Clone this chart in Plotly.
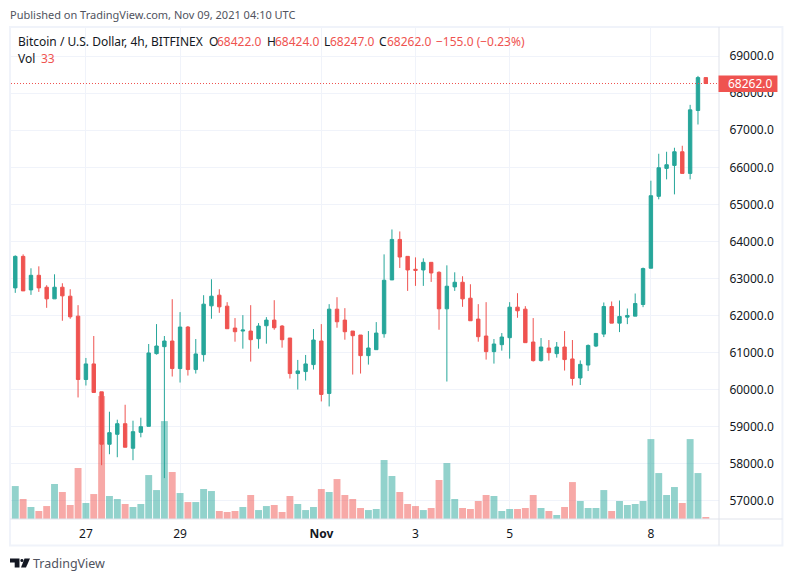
import pandas as pd
import plotly.graph_objects as go

GREEN = "#26a69a"
RED = "#ef5350"
GREEN_VOL = "rgba(38,166,154,0.5)"
RED_VOL = "rgba(239,83,80,0.5)"
GRID = "#f0f3fa"
TEXT = "#131722"

opens = [
    62746, 63597, 62692, 63086, 62764, 62450, 62764, 62522, 61984, 60273,
    60694, 59941, 58526, 58795, 59081, 58418, 58848, 59010, 60972, 61160,
    61312, 60569, 61689, 60542, 60945, 62262, 62549, 62253, 61662, 61581,
    61581, 61375, 61724, 61877, 61716, 61393, 60434, 60488, 60676, 61312,
    59897, 62172, 61877, 61581, 61474, 60918, 61079, 61509, 62961, 64054,
    63597, 63248, 63230, 63436, 63167, 62181, 62773, 62898, 62468, 61904,
    61447, 61026, 61214, 61402, 62226, 62172, 61285, 60784, 61124, 60972,
    61151, 60828, 60314, 60664, 61176, 61499, 62244, 61795, 61957, 61984,
    62298, 63277, 65217, 65971, 66052, 66420, 65836, 67533, 68422,
]
highs = [
    63624, 63651, 63275, 63328, 62818, 63113, 62871, 62710, 62280, 60855,
    61447, 59941, 59404, 59189, 59592, 59162, 59243, 61232, 61769, 61447,
    62441, 62092, 61716, 61366, 62549, 62979, 62710, 62361, 61931, 62011,
    62280, 61796, 61957, 62414, 61742, 61393, 60802, 60936, 61635, 61769,
    62307, 62495, 62199, 61581, 61474, 61581, 61823, 63651, 64323, 64269,
    63597, 63570, 63543, 63436, 63194, 63355, 63167, 63060, 62844, 62307,
    62361, 61366, 61527, 62361, 62603, 62253, 61931, 61393, 61339, 61285,
    61581, 61339, 60789, 61220, 61517, 62352, 62379, 62406, 62190, 62595,
    63295, 65639, 66366, 66420, 66528, 66582, 67686, 68467, 68424,
]
lows = [
    62612, 62665, 62558, 62638, 62208, 62450, 61859, 61913, 59789, 60112,
    59924, 57961, 58257, 58176, 58445, 58096, 58714, 59010, 60945, 57612,
    60354, 60192, 60380, 60434, 60757, 61913, 62074, 61644, 61294, 61106,
    60757, 61106, 61241, 61617, 61133, 60300, 60004, 60246, 60542, 59682,
    59547, 61671, 61348, 60407, 60434, 60676, 61079, 61402, 62961, 63284,
    62665, 62800, 62800, 62907, 61617, 60219, 62665, 62235, 61859, 61294,
    60811, 60703, 61052, 60837, 61940, 61268, 60757, 60757, 60784, 60864,
    60515, 60112, 60125, 60502, 61149, 61418, 61795, 61553, 61768, 61984,
    62226, 63277, 65136, 65675, 65270, 65836, 65675, 67156, 68247,
]
closes = [
    63597, 62665, 63086, 62746, 62450, 62764, 62531, 61966, 60273, 60694,
    59924, 58526, 58839, 59081, 58445, 58866, 59001, 60990, 61178, 61312,
    60569, 61689, 60542, 60963, 62307, 62522, 62235, 61644, 61563, 61608,
    61348, 61716, 61877, 61671, 61348, 60434, 60506, 60694, 61339, 59870,
    62172, 61832, 61563, 61456, 60918, 61124, 61527, 62952, 64054, 63579,
    63230, 63221, 63436, 63149, 62181, 62791, 62898, 62450, 61859, 61429,
    61026, 61232, 61420, 62226, 62128, 61268, 60784, 61151, 60999, 61151,
    60811, 60300, 60682, 61193, 61517, 62244, 61795, 61975, 62002, 62325,
    63268, 65234, 65989, 66070, 66420, 65836, 67551, 68422, 68262,
]
volumes = [
    544, 330, 198, 132, 214, 578, 446, 231, 842, 264,
    412, 2030, 380, 330, 248, 198, 248, 726, 478, 1617,
    776, 429, 280, 280, 495, 462, 132, 116, 132, 198,
    396, 148, 214, 231, 116, 380, 248, 148, 198, 495,
    446, 660, 396, 330, 182, 148, 165, 974, 710, 446,
    248, 214, 148, 182, 644, 924, 330, 182, 165, 297,
    396, 380, 132, 165, 165, 182, 396, 182, 132, 66,
    198, 610, 297, 182, 182, 478, 132, 297, 231, 248,
    297, 1320, 759, 396, 528, 264, 1320, 759, 33,
]
# the bar cut off by the left edge of the pane
edge_volume = 231

price_ticks = [57000, 58000, 59000, 60000, 61000, 62000, 63000, 64000, 65000, 66000, 67000, 68000, 69000]
date_ticks = ["2021-10-27", "2021-10-29", "2021-11-01", "2021-11-03", "2021-11-05", "2021-11-08"]
date_labels = ["27", "29", "<b>Nov</b>", "3", "5", "8"]
last_price = 68262

times = pd.date_range("2021-10-25 12:00", periods=len(opens), freq="4h")
edge_time = pd.Timestamp("2021-10-25 08:00")

vol_x = [edge_time] + list(times)
vol_y = [edge_volume] + volumes
vol_colors = [GREEN_VOL] + [GREEN_VOL if c >= o else RED_VOL for o, c in zip(opens, closes)]

L, R, T, B = 11, 719.5, 27, 519.5


def xp(px):
    return (px - L) / (R - L)


def yp(py):
    return (B - py) / (B - T)


def logo_path(points):
    return "M " + " L ".join(f"{xp(x)},{yp(y)}" for x, y in points) + " Z"


fig = go.Figure()

fig.add_trace(go.Bar(x=vol_x, y=vol_y, marker=dict(color=vol_colors, line_width=0), yaxis="y"))
fig.add_trace(go.Candlestick(
    x=times, open=opens, high=highs, low=lows, close=closes,
    increasing=dict(line=dict(color=GREEN, width=1), fillcolor=GREEN),
    decreasing=dict(line=dict(color=RED, width=1), fillcolor=RED),
    whiskerwidth=0,
    yaxis="y2",
))


def label(px, py, text, color=TEXT, size=12, anchor="left", font="Noto Sans"):
    fig.add_annotation(
        xref="paper", yref="paper", x=xp(px), y=yp(py), text=text, showarrow=False,
        xanchor=anchor, yanchor="middle", borderpad=0, borderwidth=0,
        font=dict(family=font, size=size, color=color),
    )


label(10, 14, "Published on TradingView.com, Nov 09, 2021 04:10 UTC", color="#50535e", size=11)
label(18, 42, "Bitcoin / U.S. Dollar, 4h, BITFINEX")
label(209, 42, "O")
label(217, 42, "68422.0", color=RED)
label(267, 42, "H")
label(275, 42, "68424.0", color=RED)
label(324, 42, "L")
label(330, 42, "68247.0", color=RED)
label(379, 42, "C")
label(387, 42, "68262.0", color=RED)
label(436, 42, "\u2212155.0 (\u22120.23%)", color=RED)
label(18, 59, "Vol")
label(41, 59, "33", color=RED)
label(751, 84, f"{last_price:.1f}", color="#ffffff", anchor="center")
label(33, 564, "TradingView", color="#50535e", size=12.5)

shapes = [
    # chart frame and axis separators
    dict(type="rect", xref="paper", yref="paper", x0=xp(10), x1=xp(783), y0=yp(546), y1=yp(27),
         line=dict(color=GRID, width=2)),
    dict(type="line", xref="paper", yref="paper", x0=xp(R), x1=xp(R), y0=yp(546), y1=yp(27),
         line=dict(color="#e0e3eb", width=1)),
    dict(type="line", xref="paper", yref="paper", x0=xp(10), x1=xp(783), y0=yp(B), y1=yp(B),
         line=dict(color="#e0e3eb", width=1)),
    # last price line and tag
    dict(type="line", xref="paper", yref="y2", x0=0, x1=1, y0=last_price, y1=last_price,
         line=dict(color=RED, width=1, dash="1px,2px")),
    dict(type="rect", xref="paper", yref="paper", x0=xp(719), x1=xp(778), y0=yp(92), y1=yp(75.5),
         fillcolor=RED, line_width=0),
    # logo mark
    dict(type="path", xref="paper", yref="paper", fillcolor="#131722", line_width=0,
         path=logo_path([(10, 559), (19.5, 559), (19.5, 568), (14.7, 568), (14.7, 563), (10, 563)])),
    dict(type="circle", xref="paper", yref="paper", fillcolor="#131722", line_width=0,
         x0=xp(20.4), x1=xp(23.4), y0=yp(562.6), y1=yp(559.6)),
    dict(type="path", xref="paper", yref="paper", fillcolor="#131722", line_width=0,
         path=logo_path([(24.5, 559), (30, 559), (26, 568), (21, 568)])),
]
fig.update_layout(
    width=793, height=582,
    margin=dict(l=L, r=793 - R, t=T, b=582 - B),
    paper_bgcolor="#ffffff", plot_bgcolor="#ffffff",
    showlegend=False,
    bargap=0.12,
    boxgap=0.38,
    shapes=shapes,
    font=dict(family="Noto Sans", size=12, color=TEXT),
    xaxis=dict(
        type="date", range=["2021-10-25 09:49", "2021-11-09 10:43"],
        rangeslider_visible=False,
        tickmode="array", tickvals=date_ticks, ticktext=date_labels,
        ticks="outside", ticklen=4, tickcolor="rgba(0,0,0,0)",
        showgrid=True, gridcolor=GRID, gridwidth=1, zeroline=False, showline=False,
    ),
    yaxis=dict(range=[0, 8126], showticklabels=False, showgrid=False, zeroline=False, ticks=""),
    yaxis2=dict(
        overlaying="y", side="right", anchor="x", range=[56509, 69787],
        tickmode="array", tickvals=price_ticks, tickformat=".1f",
        ticks="outside", ticklen=7, tickcolor="rgba(0,0,0,0)",
        showgrid=True, gridcolor=GRID, gridwidth=1, zeroline=False, showline=False,
    ),
)

fig.write_html("out.html", config={"displayModeBar": False}, post_script="document.body.style.margin='0';")
